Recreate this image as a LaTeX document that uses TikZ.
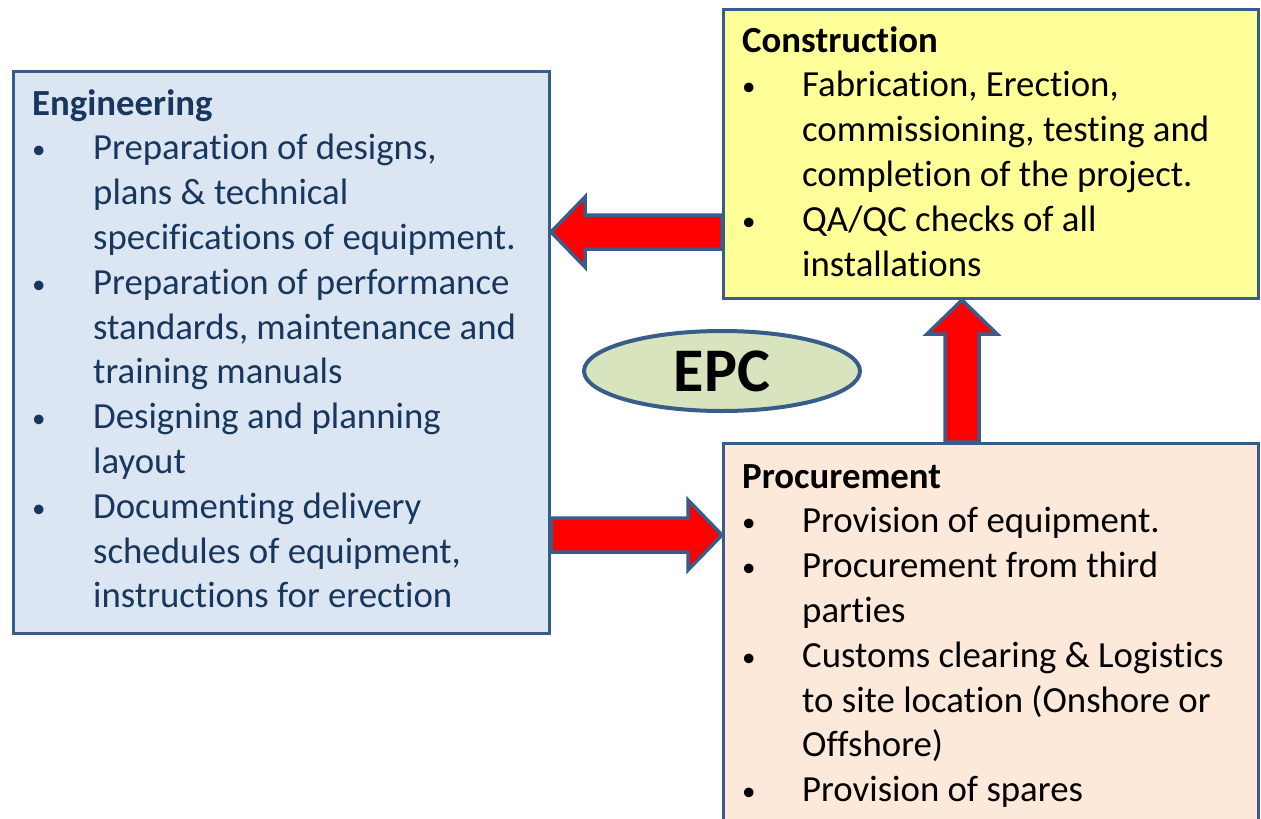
\documentclass[tikz,border=0pt]{standalone}
\usepackage{fontspec}
\setmainfont[Ligatures=NoCommon]{Carlito}
\usetikzlibrary{shapes.geometric,calc}

\definecolor{edgeblue}{HTML}{385D8A}
\definecolor{engfill}{HTML}{DCE6F2}
\definecolor{confill}{HTML}{FFFF99}
\definecolor{profill}{HTML}{FDE9D9}
\definecolor{epcfill}{HTML}{D7E4BD}
\definecolor{engtext}{HTML}{17375E}
\newcommand{\blt}{\raisebox{1pt}{\fontsize{27}{0}\selectfont •}}

\begin{document}
\begin{tikzpicture}[x=1pt, y=-1pt,
        box/.style={rectangle, draw=edgeblue, line width=3pt, anchor=north west, inner sep=0pt},
        boxtext/.style={anchor=north west, inner sep=0pt, font=\fontsize{36.8}{44.8}\selectfont},
        epc/.style={ellipse, draw=edgeblue, line width=4pt, fill=epcfill, minimum width=276pt, minimum height=80pt, inner sep=0pt, font=\fontsize{62}{70}\selectfont\bfseries},
        blockarrow/.style={draw=edgeblue, fill=red, line width=3.5pt, line join=miter,
            to path={let \p1=(\tikztostart), \p2=(\tikztotarget),
                \n1={atan2(\y2-\y1,\x2-\x1)}, \n2={veclen(\x2-\x1,\y2-\y1)} in
                ([shift={(\p1)},rotate=\n1]0pt,17pt) -- ([shift={(\p1)},rotate=\n1]\n2-34pt,17pt)
                -- ([shift={(\p1)},rotate=\n1]\n2-34pt,35pt) -- ([shift={(\p1)},rotate=\n1]\n2,0pt)
                -- ([shift={(\p1)},rotate=\n1]\n2-34pt,-35pt) -- ([shift={(\p1)},rotate=\n1]\n2-34pt,-17pt)
                -- ([shift={(\p1)},rotate=\n1]0pt,-17pt) -- cycle}},
    ]
    \clip (0,0) rectangle (1261,819);
    \fill[white] (0,0) rectangle (1261,819);

    % the three boxes
    \node[box, fill=engfill, minimum width=536pt, minimum height=562pt] (eng) at (12,70) {};
    \node[box, fill=confill, minimum width=535pt, minimum height=289pt] (con) at (722,8) {};
    \node[box, fill=profill, minimum width=535pt, minimum height=420pt] (pro) at (722,442) {};

    \node[boxtext, text=engtext] (engtxt) at ([shift={(20,13.6)}]eng.north west) {%
        \begin{tabular}{@{}p{61pt}@{}l@{}}
            \multicolumn{2}{@{}l@{}}{\textbf{Engineering}} \\
            \blt & Preparation of designs, \\
                 & plans \& technical \\
                 & specifications of equipment. \\
            \blt & Preparation of performance \\
                 & standards, maintenance and \\
                 & training manuals \\
            \blt & Designing and planning \\
                 & layout \\
            \blt & Documenting delivery \\
                 & schedules of equipment, \\
                 & instructions for erection
        \end{tabular}};
    \node[boxtext] (contxt) at ([shift={(20,12.6)}]con.north west) {%
        \begin{tabular}{@{}p{60pt}@{}l@{}}
            \multicolumn{2}{@{}l@{}}{\textbf{Construction}} \\
            \blt & Fabrication, Erection, \\
                 & commissioning, testing and \\
                 & completion of the project. \\
            \blt & QA/QC checks of all \\
                 & installations
        \end{tabular}};
    \node[boxtext] (protxt) at ([shift={(20,14.6)}]pro.north west) {%
        \begin{tabular}{@{}p{60pt}@{}l@{}}
            \multicolumn{2}{@{}l@{}}{\textbf{Procurement}} \\
            \blt & Provision of equipment. \\
            \blt & Procurement from third \\
                 & parties \\
            \blt & Customs clearing \& Logistics \\
                 & to site location (Onshore or \\
                 & Offshore) \\
            \blt & Provision of spares
        \end{tabular}};

    \node[epc] (epcnode) at (722,371) {EPC};

    % arrows between the boxes
    \coordinate (a1s) at (con.west |- 0,232);
    \coordinate (a1t) at (eng.east |- 0,232);
    \coordinate (a2s) at (eng.east |- 0,535);
    \coordinate (a2t) at (pro.west |- 0,535);
    \coordinate (a3s) at (962,0 |- pro.north);
    \coordinate (a3t) at (962,0 |- con.south);
    \draw[blockarrow] (a1s) to (a1t);
    \draw[blockarrow] (a2s) to (a2t);
    \draw[blockarrow] (a3s) to (a3t);
\end{tikzpicture}
\end{document}
